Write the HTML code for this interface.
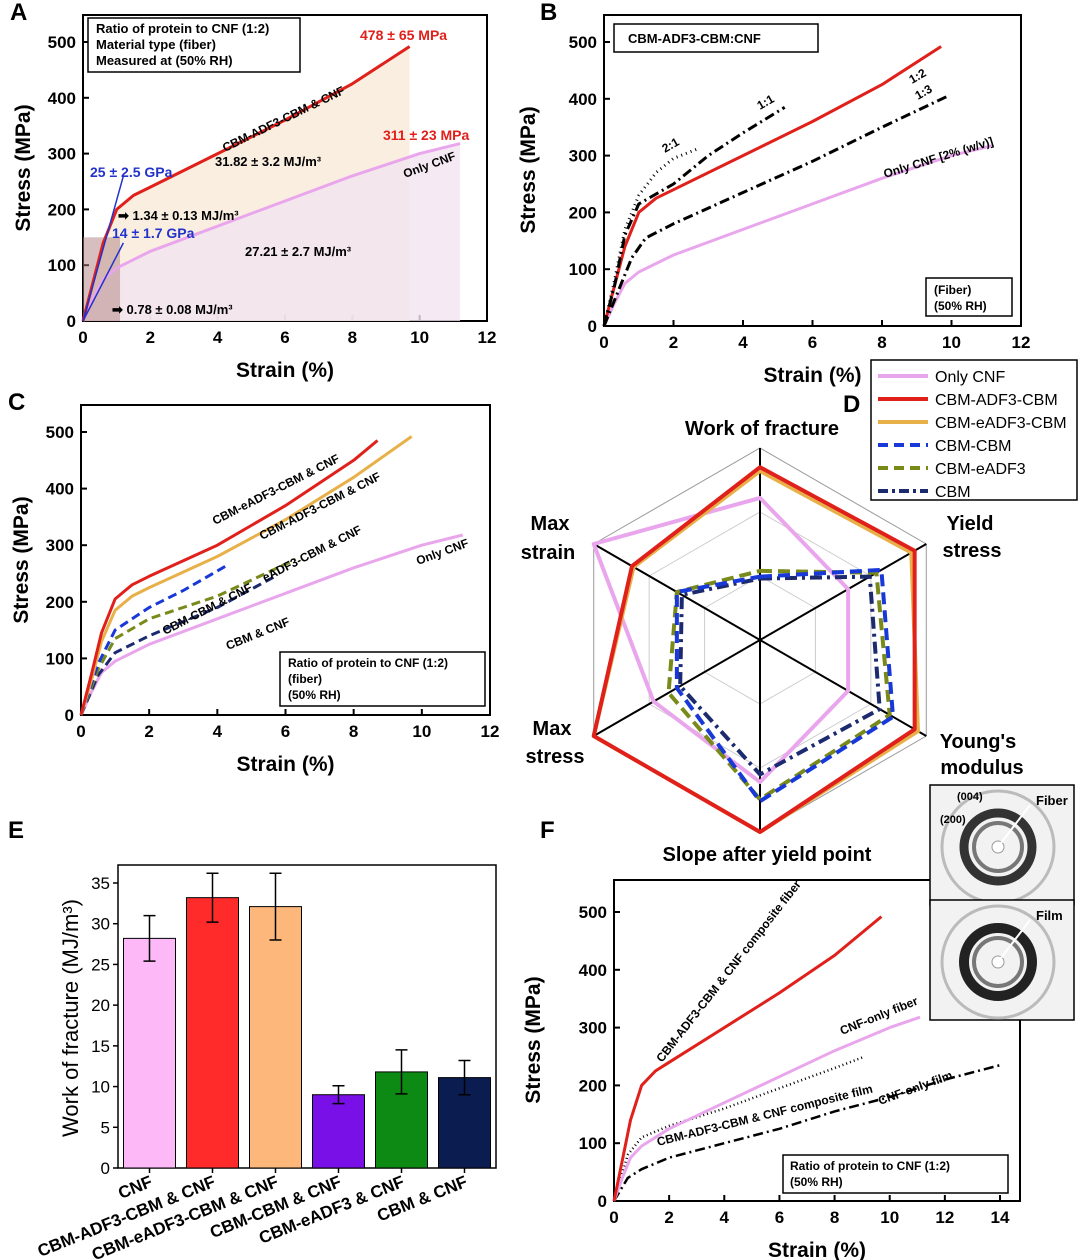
<!DOCTYPE html>
<html><head><meta charset="utf-8"><style>
body{margin:0;background:#fff}
svg{display:block;font-family:"Liberation Sans",sans-serif}
</style></head><body>
<svg id="fig" width="1080" height="1260" viewBox="0 0 1080 1260"></svg>
<script>
// ---------- DATA ----------
const cnfStrain=[0,0.3,0.6,1,2,4,6,8,10,11.2];
const cnfStress=[0,40,75,95,125,170,215,260,300,318];
const adfStrain=[0,0.3,0.6,1,1.5,2,4,6,8,9.7];
const adfStress=[0,70,140,200,225,240,300,360,425,492];
const r21Strain=[0,0.3,0.6,1,1.5,2,2.7];
const r21Stress=[0,80,170,230,270,295,312];
const r11Strain=[0,0.3,0.6,1,2,3,4,5.2];
const r11Stress=[0,70,160,215,250,300,340,385];
const r13Strain=[0,0.4,0.8,1.2,2,4,6,8,9.9];
const r13Stress=[0,60,120,155,180,235,290,350,405];
const cRedStrain=[0,0.3,0.6,1,1.5,2,4,6,8,8.7];
const cRedStress=[0,70,145,205,230,245,300,370,450,485];
const cOrgStrain=[0,0.3,0.6,1,1.5,2,4,6,8,9.7];
const cOrgStress=[0,60,130,185,210,225,280,345,420,492];
const cbmcbmStrain=[0,0.5,1,2,3,4.3];
const cbmcbmStress=[0,90,150,190,220,265];
const eadfStrain=[0,0.5,1,2,4,6.3];
const eadfStress=[0,80,135,170,210,275];
const cbmStrain=[0,0.5,1,2,4,5.7];
const cbmStress=[0,70,110,140,190,245];
const filmCompStrain=[0,0.5,1,2,4,6,8,9.1];
const filmCompStress=[0,80,110,130,160,195,230,250];
const filmCnfStrain=[0,0.5,1,2,4,6,8,10,12,14];
const filmCnfStress=[0,40,55,75,100,125,155,180,210,235];
const radarAxes=["Work of fracture","Yield stress","Young's modulus","Slope after yield point","Max stress","Max strain"];
const radarCNF=[0.74,0.53,0.53,0.74,0.64,1.0];
const radarADF3=[0.9,0.93,0.93,1.0,1.0,0.77];
const radarEADF3=[0.88,0.91,0.95,1.0,1.0,0.76];
const radarCBMCBM=[0.33,0.73,0.8,0.84,0.5,0.5];
const radarCBMEADF3=[0.36,0.7,0.78,0.83,0.55,0.5];
const radarCBM=[0.32,0.66,0.72,0.7,0.48,0.47];
const barNames=["CNF","CBM-ADF3-CBM & CNF","CBM-eADF3-CBM & CNF","CBM-CBM & CNF","CBM-eADF3 & CNF","CBM & CNF"];
const barValues=[28.2,33.2,32.1,9.0,11.8,11.1];
const barErrors=[2.8,3.0,4.1,1.1,2.7,2.1];
const stressTicks=[0,100,200,300,400,500];
const strainTicks=[0,2,4,6,8,10,12];
const strainTicksF=[0,2,4,6,8,10,12,14];
const wofTicks=[0,5,10,15,20,25,30,35];

// ---------- HELPERS ----------
const S="http://www.w3.org/2000/svg";
const fig=document.getElementById('fig');
function el(tag,attrs,parent,text){const e=document.createElementNS(S,tag);for(const k in attrs)e.setAttribute(k,attrs[k]);if(text!==undefined)e.textContent=text;(parent||fig).appendChild(e);return e;}
function txt(x,y,s,size,opts){opts=opts||{};const t=el('text',{x:x,y:y,'font-size':size,'font-weight':opts.w||'bold',fill:opts.fill||'#000','text-anchor':opts.a||'start'},opts.p,s);if(opts.rot!==undefined)t.setAttribute('transform','rotate('+opts.rot+' '+x+' '+y+')');return t;}
function panel(name,x0,x1,y0,y1,xmax,ymax,top,right,xt,yt,xtitle){
  const g=el('g',{});
  const sx=v=>x0+(x1-x0)*v/xmax, sy=v=>y0-(y0-y1)*v/ymax;
  const box=el('rect',{x:x0,y:top,width:right-x0,height:y0-top,fill:'none',stroke:'#000','stroke-width':2},g);
  
  xt.forEach(v=>{const l=el('line',{x1:sx(v),x2:sx(v),y1:y0,y2:y0-6,stroke:'#000','stroke-width':2},g);txt(sx(v),y0+22,String(v),17,{a:'middle',p:g,name:'x-tick-label'});});
  yt.forEach(v=>{const l=el('line',{x1:x0,x2:x0+6,y1:sy(v),y2:sy(v),stroke:'#000','stroke-width':2},g);txt(x0-7,sy(v)+6,String(v),17,{a:'end',p:g,name:'y-tick-label'});});
  txt((x0+right)/2,y0+56,xtitle||'Strain (%)',21,{a:'middle',p:g,name:'x-axis-title'});
  return {g,sx,sy};
}
function curve(P,xs,ys,color,w,dash,name){const d=xs.map((x,i)=>(i?'L':'M')+P.sx(x).toFixed(1)+' '+P.sy(ys[i]).toFixed(1)).join(' ');const p=el('path',{d:d,fill:'none',stroke:color,'stroke-width':w,'stroke-linejoin':'round'},P.g);if(dash)p.setAttribute('stroke-dasharray',dash);return p;}
const PINK='#e9a6ec',RED='#e0201b',ORG='#e8b048',BLUE='#1838d8',OLV='#7a8a1a',NAVY='#1c2a70';

// ---------- PANEL A ----------
const A=panel('panel-a',83,487,321,42,12,500,15,487,strainTicks,stressTicks);
txt(10,20,'A',24,{name:'panel-letter'});
txt(30,168,'Stress (MPa)',21,{a:'middle',rot:-90,name:'y-axis-title'});
el('polygon',{points:A.sx(0)+','+A.sy(0)+' '+adfStrain.map((x,i)=>A.sx(x)+','+A.sy(adfStress[i])).join(' ')+' '+A.sx(9.7)+','+A.sy(0),fill:'#f7ead8',opacity:0.8},A.g);
el('polygon',{points:A.sx(0)+','+A.sy(0)+' '+cnfStrain.map((x,i)=>A.sx(x)+','+A.sy(cnfStress[i])).join(' ')+' '+A.sx(11.2)+','+A.sy(0),fill:'#f3e4f0',opacity:0.8},A.g);
el('rect',{x:A.sx(0),y:A.sy(150),width:A.sx(1.1)-A.sx(0),height:A.sy(0)-A.sy(150),fill:'#b08080',opacity:0.5},A.g);
curve(A,cnfStrain,cnfStress,PINK,3,null,'curve-only-cnf');
curve(A,adfStrain,adfStress,RED,3,null,'curve-adf3');
el('line',{x1:A.sx(0),y1:A.sy(0),x2:A.sx(1.2),y2:A.sy(260),stroke:'#2233cc','stroke-width':1.5},A.g);
el('line',{x1:A.sx(0),y1:A.sy(0),x2:A.sx(1.2),y2:A.sy(140),stroke:'#2233cc','stroke-width':1.5},A.g);
const la=el('rect',{x:88,y:18,width:212,height:54,fill:'#fff',stroke:'#000','stroke-width':1.5},A.g);
txt(96,33,'Ratio of protein to CNF (1:2)',13,{p:A.g});txt(96,49,'Material type (fiber)',13,{p:A.g});txt(96,65,'Measured at (50% RH)',13,{p:A.g});
txt(360,40,'478 ± 65 MPa',14,{fill:RED,p:A.g});txt(383,140,'311 ± 23 MPa',14,{fill:RED,p:A.g});
txt(90,177,'25 ± 2.5 GPa',14,{fill:'#2233cc',p:A.g});txt(112,238,'14 ± 1.7 GPa',14,{fill:'#2233cc',p:A.g});
txt(225,152,'CBM-ADF3-CBM & CNF',12,{rot:-26,p:A.g});txt(405,178,'Only CNF',12,{rot:-20,p:A.g});
txt(215,166,'31.82 ± 3.2 MJ/m³',13,{p:A.g});txt(245,256,'27.21 ± 2.7 MJ/m³',13,{p:A.g});
txt(118,220,'➡ 1.34 ± 0.13 MJ/m³',13,{p:A.g});txt(112,314,'➡ 0.78 ± 0.08 MJ/m³',13,{p:A.g});

// ---------- PANEL B ----------
const B=panel('panel-b',604,1021,326,42,12,500,15,1021,strainTicks,stressTicks);
txt(540,20,'B',24,{name:'panel-letter'});
txt(535,170,'Stress (MPa)',21,{a:'middle',rot:-90,name:'y-axis-title'});
curve(B,cnfStrain,cnfStress,PINK,3,null,'curve-only-cnf');
curve(B,adfStrain,adfStress,RED,3,null,'curve-1-2');
curve(B,r21Strain,r21Stress,'#000',3,'1 4','curve-2-1');
curve(B,r11Strain,r11Stress,'#000',3,'10 4 2 4','curve-1-1');
curve(B,r13Strain,r13Stress,'#000',3,'10 4 2 4','curve-1-3');
el('rect',{x:614,y:24,width:204,height:28,fill:'#fff',stroke:'#000','stroke-width':1.5},B.g);
txt(628,43,'CBM-ADF3-CBM:CNF',13,{p:B.g});
txt(665,153,'2:1',12,{rot:-30,p:B.g});txt(760,110,'1:1',12,{rot:-30,p:B.g});
txt(912,84,'1:2',12,{rot:-30,p:B.g});txt(918,100,'1:3',12,{rot:-30,p:B.g});
txt(885,178,'Only CNF [2% (w/v)]',12,{rot:-17,p:B.g});
el('rect',{x:926,y:278,width:86,height:38,fill:'#fff',stroke:'#000','stroke-width':1.5},B.g);
txt(934,294,'(Fiber)',12,{p:B.g});txt(934,310,'(50% RH)',12,{p:B.g});

// ---------- PANEL C ----------
const C=panel('panel-c',81,490,715,432,12,500,405,490,strainTicks,stressTicks);
txt(8,410,'C',24,{name:'panel-letter'});
txt(28,560,'Stress (MPa)',21,{a:'middle',rot:-90,name:'y-axis-title'});
curve(C,cnfStrain,cnfStress,PINK,3,null,'curve-only-cnf');
curve(C,cbmStrain,cbmStress,NAVY,3,'9 5','curve-cbm');
curve(C,eadfStrain,eadfStress,OLV,3,'9 5','curve-eadf3-cbm');
curve(C,cbmcbmStrain,cbmcbmStress,BLUE,3,'9 5','curve-cbm-cbm');
curve(C,cOrgStrain,cOrgStress,ORG,3,null,'curve-cbm-eadf3-cbm');
curve(C,cRedStrain,cRedStress,RED,3,null,'curve-cbm-adf3-cbm');
txt(215,525,'CBM-eADF3-CBM & CNF',12,{rot:-27,p:C.g});txt(262,540,'CBM-ADF3-CBM & CNF',12,{rot:-27,p:C.g});
txt(265,582,'eADF3-CBM & CNF',12,{rot:-27,p:C.g});txt(165,635,'CBM-CBM & CNF',12,{rot:-27,p:C.g});
txt(228,650,'CBM & CNF',12,{rot:-22,p:C.g});txt(418,565,'Only CNF',12,{rot:-20,p:C.g});
el('rect',{x:280,y:652,width:205,height:54,fill:'#fff',stroke:'#000','stroke-width':1.5},C.g);
txt(288,667,'Ratio of protein to CNF (1:2)',12,{p:C.g});txt(288,683,'(fiber)',12,{p:C.g});txt(288,699,'(50% RH)',12,{p:C.g});

// ---------- PANEL D (radar) ----------
const gD=el('g',{});
txt(843,412,'D',24,{name:'panel-letter'});
const cx=760,cy=640,R=192;
const ang=i=>(-90+60*i)*Math.PI/180;
const rp=(i,r)=>[cx+R*r*Math.cos(ang(i)),cy+R*r*Math.sin(ang(i))];
[1/3,2/3,1].forEach((f,k)=>{const h=el('polygon',{points:[0,1,2,3,4,5].map(i=>rp(i,f).join(',')).join(' '),fill:'none',stroke:k==2?'#999':'#ccc','stroke-width':1},gD);});
[0,1,2].forEach(i=>{const a=rp(i,1),b=rp(i+3,1);const l=el('line',{x1:a[0],y1:a[1],x2:b[0],y2:b[1],stroke:'#000','stroke-width':2},gD);});
function radar(vals,color,w,dash,name){const p=el('polygon',{points:vals.map((v,i)=>rp(i,v).join(',')).join(' '),fill:'none',stroke:color,'stroke-width':w,'stroke-linejoin':'round'},gD);if(dash)p.setAttribute('stroke-dasharray',dash);}
radar(radarCNF,PINK,4,null,'radar-only-cnf');
radar(radarCBM,NAVY,4,'12 5 3 5','radar-cbm');
radar(radarCBMEADF3,OLV,4,'12 6','radar-cbm-eadf3');
radar(radarCBMCBM,BLUE,4,'12 6','radar-cbm-cbm');
radar(radarEADF3,ORG,4,null,'radar-cbm-eadf3-cbm');
radar(radarADF3,RED,4,null,'radar-cbm-adf3-cbm');
txt(762,435,radarAxes[0],20,{a:'middle',p:gD,name:'radar-axis-label'});
txt(970,530,'Yield',20,{a:'middle',p:gD});txt(972,557,'stress',20,{a:'middle',p:gD});
txt(978,748,"Young's",20,{a:'middle',p:gD});txt(982,774,'modulus',20,{a:'middle',p:gD});
txt(767,861,radarAxes[3],20,{a:'middle',p:gD,name:'radar-axis-label'});
txt(552,735,'Max',20,{a:'middle',p:gD});txt(555,763,'stress',20,{a:'middle',p:gD});
txt(550,530,'Max',20,{a:'middle',p:gD});txt(548,559,'strain',20,{a:'middle',p:gD});
// legend
const lg=el('g',{},gD);
el('rect',{x:871,y:360,width:206,height:140,fill:'#fff',stroke:'#000','stroke-width':1.5},lg);
const legItems=[['Only CNF',PINK,null],['CBM-ADF3-CBM',RED,null],['CBM-eADF3-CBM',ORG,null],['CBM-CBM',BLUE,'10 6'],['CBM-eADF3',OLV,'10 6'],['CBM',NAVY,'10 4 3 4']];
legItems.forEach((it,i)=>{const y=376+i*23;const l=el('line',{x1:878,x2:928,y1:y,y2:y,stroke:it[1],'stroke-width':4},lg);if(it[2])l.setAttribute('stroke-dasharray',it[2]);txt(935,y+6,it[0],16,{w:'normal',p:lg,name:'legend-entry'});});

// ---------- PANEL E (bars) ----------
const gE=el('g',{});
txt(8,838,'E',24,{name:'panel-letter'});
const ex0=118,ex1=496,ey0=1168,ey1=883,eTop=865;
const ey=v=>ey0-(ey0-ey1)*v/35;
el('rect',{x:ex0,y:eTop,width:ex1-ex0,height:ey0-eTop,fill:'none',stroke:'#000','stroke-width':1.5},gE);
wofTicks.forEach(v=>{el('line',{x1:ex0-5,x2:ex0,y1:ey(v),y2:ey(v),stroke:'#000','stroke-width':1.5},gE);txt(ex0-8,ey(v)+6,String(v),17,{w:'normal',a:'end',p:gE,name:'y-tick-label'});});
txt(78,1018,'Work of fracture (MJ/m³)',22,{w:'normal',a:'middle',rot:-90,name:'y-axis-title'});
const barColors=['#fdb8f8','#ff2a2a','#fdb77a','#7a10e8','#0d8a14','#0b1c50'];
const bw=(ex1-ex0)/barNames.length;
barNames.forEach((n,i)=>{const c=ex0+bw*(i+0.5);const r=el('rect',{x:c-26,y:ey(barValues[i]),width:52,height:ey0-ey(barValues[i]),fill:barColors[i],stroke:'#000','stroke-width':1},gE);
 const t=ey(barValues[i]+barErrors[i]),b=ey(barValues[i]-barErrors[i]);
 el('path',{d:`M${c} ${t}V${b}M${c-6} ${t}H${c+6}M${c-6} ${b}H${c+6}`,stroke:'#000','stroke-width':1.5,fill:'none'},gE);
 el('line',{x1:c,x2:c,y1:ey0,y2:ey0+5,stroke:'#000','stroke-width':1.5},gE);
 txt(c+4,ey0+18,n,17,{a:'end',rot:-22,p:gE,name:'x-tick-label'});});

// ---------- PANEL F ----------
const F=panel('panel-f',614,1000,1201,912,14,500,880,1020,strainTicksF,stressTicks);
txt(540,838,'F',24,{name:'panel-letter'});
txt(540,1040,'Stress (MPa)',21,{a:'middle',rot:-90,name:'y-axis-title'});
curve(F,filmCnfStrain,filmCnfStress,'#000',2.5,'10 4 2 4','curve-cnf-film');
curve(F,filmCompStrain,filmCompStress,'#000',2.5,'1 3','curve-composite-film');
curve(F,cnfStrain.slice(0,9).concat([11.1]),cnfStress.slice(0,9).concat([318]),PINK,3,null,'curve-cnf-fiber');
curve(F,adfStrain,adfStress,RED,3,null,'curve-composite-fiber');
txt(662,1063,'CBM-ADF3-CBM  & CNF composite fiber',12,{rot:-52,p:F.g});
txt(842,1035,'CNF-only fiber',12,{rot:-22,p:F.g});
txt(880,1105,'CNF-only film',12,{rot:-20,p:F.g});
txt(658,1146,'CBM-ADF3-CBM & CNF composite film',12,{rot:-14,p:F.g});
el('rect',{x:783,y:1155,width:225,height:38,fill:'#fff',stroke:'#000','stroke-width':1.5},F.g);
txt(790,1170,'Ratio of protein to CNF (1:2)',12,{p:F.g});txt(790,1186,'(50% RH)',12,{p:F.g});
// inset diffraction patterns
function inset(y,label,fiber){const g=el('g',{});
 el('rect',{x:930,y:y,width:144,height:120,fill:'#f2f2f2',stroke:'#000','stroke-width':1.5},g);
 const c=[998,y+62];
 el('circle',{cx:c[0],cy:c[1],r:56,fill:'none',stroke:'#bbb','stroke-width':3},g);
 el('circle',{cx:c[0],cy:c[1],r:34,fill:'none',stroke:fiber?'#333':'#222','stroke-width':fiber?9:10},g);
 el('circle',{cx:c[0],cy:c[1],r:24,fill:'none',stroke:'#777','stroke-width':4},g);
 el('circle',{cx:c[0],cy:c[1],r:6,fill:'#fff',stroke:'#999'},g);
 el('line',{x1:c[0],y1:c[1],x2:c[0]+32,y2:c[1]-42,stroke:'#fff','stroke-width':2},g);
 txt(1036,y+20,label,13,{p:g});return g;}
inset(785,'Fiber',true);inset(900,'Film',false);
txt(957,800,'(004)',11,{});txt(940,823,'(200)',11,{});
</script>
</body></html>
